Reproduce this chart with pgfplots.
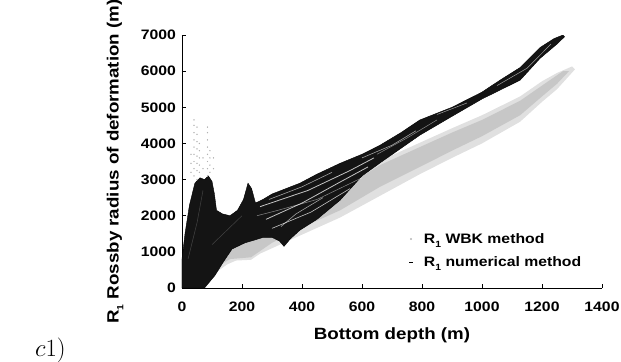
\documentclass[border=0pt]{standalone}
\usepackage[no-math]{fontspec}
\setmainfont{Liberation Sans}[FakeStretch=1.15]
\usepackage{pgfplots}
\pgfplotsset{compat=1.18}
\newcommand\tickfont{\fontsize{13.7bp}{16bp}\selectfont\bfseries}
\newcommand\labfont{\fontsize{16.3bp}{18bp}\selectfont\bfseries}
\newcommand\sub{\raisebox{-0.55ex}{\fontsize{9bp}{9bp}\selectfont 1}}
\begin{document}
\begin{tikzpicture}
\begin{axis}[
 scale only axis, width=420bp, height=253bp,
 xmin=0, xmax=1400, ymin=0, ymax=7000,
 axis lines*=left,
 axis line style={line width=0.9bp, black},
 tick style={line width=0.7bp, black},
 tick align=inside, major tick length=4bp,
 xtick={0,200,400,600,800,1000,1200,1400},
 ytick={0,1000,2000,3000,4000,5000,6000,7000},
 scaled ticks=false,
 /pgf/number format/1000 sep={},
 /pgf/number format/assume math mode=true,
 tick label style={font=\tickfont},
 xticklabel style={anchor=north, inner sep=0pt, yshift=-14bp},
 yticklabel style={anchor=east, inner sep=0pt, xshift=-6bp},
 xlabel={Bottom depth (m)},
 ylabel={R\sub\ Rossby radius of deformation (m)},
 every axis x label/.style={at={(axis description cs:0.5,-0.186)}, anchor=center, font=\labfont},
 every axis y label/.style={at={(axis description cs:-0.1595,0.5)}, rotate=90, anchor=center, font=\labfont},
 legend style={at={(axis description cs:0.54,0.225)}, anchor=north west, draw=none, fill=none, font=\tickfont, row sep=8bp, inner sep=0pt},
 legend cell align=left,
]
% WBK method (grey cloud), outer envelope
\addplot[fill=black!12, draw=none, forget plot] coordinates {
 (20,0) (60,100) (100,350) (150,650) (180,760) (230,780) (260,950) (300,1100)
 (393,1450) (527,1950) (660,2550) (793,3150) (900,3600) (1000,4000) (1127,4600)
 (1200,5150) (1250,5500) (1310,6050) (1300,6130) (1250,5950) (1200,5720)
 (1127,5300) (1000,4780) (900,4420) (793,4020) (660,3520) (527,2820) (393,2220)
 (300,1820) (200,1720) (100,1520) (50,1200) (20,600) (0,0)} -- cycle;
% WBK method, denser core
\addplot[fill=black!22, draw=none, forget plot] coordinates {
 (40,0) (100,500) (160,800) (230,850) (300,1250) (393,1650) (527,2150)
 (660,2800) (793,3350) (900,3800) (1000,4200) (1127,4780) (1200,5300)
 (1250,5650) (1290,6000) (1270,6000) (1200,5600) (1127,5180) (1000,4650)
 (900,4300) (793,3900) (660,3400) (527,2700) (393,2100) (300,1700)
 (200,1600) (100,1400) (40,1000) (10,400)} -- cycle;
% WBK scattered points above the first peak
\addplot[only marks, mark=*, mark size=0.45bp, black!30, forget plot] coordinates {
 (40,3100) (40,3300) (40,3500) (40,3700) (40,3900) (40,4100) (40,4300) (40,4500) (40,4650)
 (50,3000) (50,3250) (50,3450) (50,3650) (50,3850) (50,4050) (50,4250) (50,4450)
 (58,3200) (58,3400) (58,3600) (58,3800) (58,4000)
 (85,3100) (85,3300) (85,3500) (85,3700) (85,3900) (85,4100) (85,4300) (85,4450)
 (93,3200) (93,3400) (93,3600) (93,3800) (70,3300) (70,3600) (105,3300) (105,3600)
 (30,3200) (30,3450) (30,3700)};
% numerical method (black cloud)
\addplot[fill=black!92, draw=black, line width=0.4bp, forget plot] coordinates {
 (0,0) (0,800) (10,1500) (25,2300) (43,2900) (60,3050) (75,3000) (88,3100)
 (100,2950) (108,2600) (115,2150) (135,2050) (160,2000) (185,2150) (205,2450)
 (220,2900) (232,2750) (245,2350) (270,2450) (300,2600) (393,2900) (450,3150)
 (527,3450) (600,3700) (660,3950) (730,4300) (793,4650) (900,5000) (1000,5420)
 (1060,5750) (1127,6100) (1193,6650) (1240,6900) (1270,7000) (1275,6950)
 (1250,6750) (1193,6350) (1127,5750) (1000,5230) (900,4750) (793,4230)
 (660,3460) (600,3100) (527,2430) (450,1900) (393,1600) (360,1350) (340,1150)
 (325,1300) (300,1400) (270,1400) (243,1330) (210,1250) (167,1080) (140,750)
 (110,350) (75,0)} -- cycle;
% lighter streaks of the numerical mesh
\addplot[white, opacity=0.75, line width=0.8bp, forget plot] coordinates {(260,2250) (420,2700) (560,3250) (640,3600)};
\addplot[white, opacity=0.75, line width=0.8bp, forget plot] coordinates {(280,1900) (400,2350) (520,2900) (620,3350)};
\addplot[white, opacity=0.75, line width=0.6bp, forget plot] coordinates {(300,1650) (430,2100) (560,2750)};
\addplot[white, opacity=0.6, line width=0.6bp, forget plot] coordinates {(290,2450) (400,2800) (500,3200)};
\addplot[white, opacity=0.6, line width=0.6bp, forget plot] coordinates {(330,1700) (380,2050) (470,2500)};
\addplot[white, opacity=0.5, line width=0.5bp, forget plot] coordinates {(250,2000) (320,2150) (450,2450) (600,3050)};
\addplot[white, opacity=0.6, line width=0.6bp, forget plot] coordinates {(600,3600) (700,3950) (780,4350)};
\addplot[white, opacity=0.5, line width=0.5bp, forget plot] coordinates {(650,3700) (750,4150) (850,4650)};
\addplot[white, opacity=0.6, line width=0.5bp, forget plot] coordinates {(850,4800) (950,5120)};
\addplot[white, opacity=0.6, line width=0.5bp, forget plot] coordinates {(1050,5600) (1150,6080) (1230,6750)};
\addplot[white, opacity=0.2, line width=0.5bp, forget plot] coordinates {(20,800) (50,1800) (70,2700)};
\addplot[white, opacity=0.2, line width=0.5bp, forget plot] coordinates {(100,1200) (150,1600) (200,2000)};
\addlegendimage{only marks, mark=*, mark size=0.8bp, black!25}
\addlegendentry{\hspace*{9bp}R\sub\ WBK method}
\addlegendimage{only marks, mark=-, mark size=2bp, black}
\addlegendentry{\hspace*{9bp}R\sub\ numerical method}
\coordinate (O) at (rel axis cs:0,0);
\end{axis}
\node[anchor=base west, inner sep=0pt, font=\fontsize{25bp}{25bp}\selectfont] at ([xshift=-147bp,yshift=-68bp]O) {$c1)$};
\pgfresetboundingbox
\path[use as bounding box] ([xshift=-182bp,yshift=-74bp]O) rectangle ([xshift=439bp,yshift=288bp]O);
\end{tikzpicture}
\end{document}
